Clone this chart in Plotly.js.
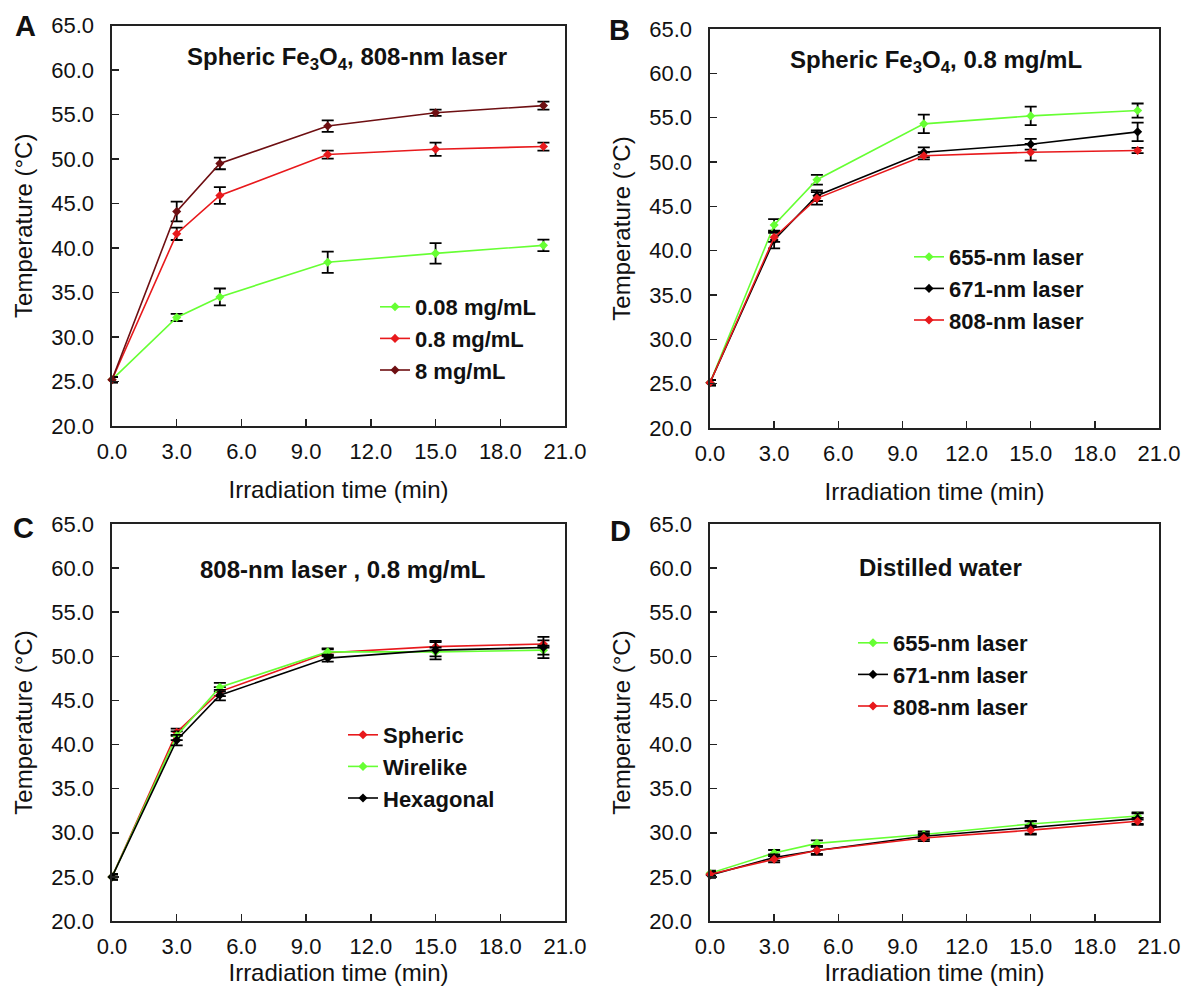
<!DOCTYPE html>
<html>
<head>
<meta charset="utf-8">
<script src="https://cdn.plot.ly/plotly-3.0.1.min.js"></script>
<style>html,body{margin:0;padding:0;background:#fff;}#chart{width:1181px;height:990px;}</style>
</head>
<body>
<div id="chart"></div>
<script>
// ---- data ----
const timeMin = [0, 3, 5, 10, 15, 20];
const xTicks = [0, 3, 6, 9, 12, 15, 18, 21];
const yTicks = [20, 25, 30, 35, 40, 45, 50, 55, 60, 65];

// Panel A: Spheric Fe3O4, 808-nm laser (concentration)
const a_008 = [25.2, 32.2, 34.5, 38.4, 39.4, 40.3];
const a_008_err = [0.3, 0.4, 0.95, 1.2, 1.15, 0.65];
const a_08 = [25.2, 41.6, 45.9, 50.5, 51.1, 51.4];
const a_08_err = [0.3, 0.7, 0.95, 0.45, 0.75, 0.45];
const a_8 = [25.2, 44.1, 49.5, 53.7, 55.2, 56.0];
const a_8_err = [0.3, 1.1, 0.65, 0.65, 0.35, 0.45];

// Panel B: Spheric Fe3O4, 0.8 mg/mL (wavelength)
const b_655 = [25.1, 42.9, 48.0, 54.3, 55.2, 55.8];
const b_655_err = [0.3, 0.65, 0.55, 1.05, 1.05, 0.8];
const b_671 = [25.1, 41.2, 46.2, 51.1, 52.0, 53.4];
const b_671_err = [0.3, 0.95, 0.6, 0.55, 0.6, 1.05];
const b_808 = [25.1, 41.5, 45.9, 50.7, 51.1, 51.3];
const b_808_err = [0.3, 0.5, 0.7, 0.4, 0.95, 0.3];

// Panel C: 808-nm laser, 0.8 mg/mL (shape)
const c_spheric = [25.0, 41.4, 46.0, 50.4, 51.1, 51.4];
const c_spheric_err = [0.3, 0.4, 0.5, 0.4, 0.5, 0.4];
const c_wirelike = [25.0, 41.0, 46.5, 50.5, 50.5, 50.7];
const c_wirelike_err = [0.3, 0.5, 0.5, 0.4, 0.5, 0.5];
const c_hexagonal = [25.0, 40.5, 45.6, 49.8, 50.7, 51.0];
const c_hexagonal_err = [0.3, 0.6, 0.6, 0.4, 1.05, 1.2];

// Panel D: Distilled water (wavelength)
const d_655 = [25.4, 27.7, 28.8, 29.8, 31.0, 31.9];
const d_655_err = [0.3, 0.35, 0.35, 0.35, 0.35, 0.4];
const d_671 = [25.2, 27.2, 28.0, 29.6, 30.6, 31.6];
const d_671_err = [0.3, 0.35, 0.5, 0.35, 0.7, 0.6];
const d_808 = [25.3, 27.0, 28.0, 29.4, 30.3, 31.3];
const d_808_err = [0.3, 0.35, 0.4, 0.35, 0.5, 0.4];

// ---- styling ----
const GREEN = '#66ff33';
const RED = '#e8191c';
const DARKRED = '#6e0f12';
const BLACK = '#000000';
const FONT = 'Liberation Sans, Arial, sans-serif';
const W = 1181, H = 990;
const PX = p => p / W;
const PY = p => 1 - p / H;

function trace(name, y, err, color, xa, ya, leg) {
  return {
    type: 'scatter', mode: 'lines+markers', name: name,
    x: timeMin, y: y,
    xaxis: xa, yaxis: ya, legend: leg,
    cliponaxis: false,
    line: {color: color, width: 1.6},
    marker: {color: color, size: 7, symbol: 'diamond'},
    error_y: {type: 'data', array: err, visible: true, color: BLACK, thickness: 1.8, width: 6}
  };
}

const data = [
  trace('0.08 mg/mL', a_008, a_008_err, GREEN, 'x', 'y', 'legend'),
  trace('0.8 mg/mL', a_08, a_08_err, RED, 'x', 'y', 'legend'),
  trace('8 mg/mL', a_8, a_8_err, DARKRED, 'x', 'y', 'legend'),
  trace('655-nm laser', b_655, b_655_err, GREEN, 'x2', 'y2', 'legend2'),
  trace('671-nm laser', b_671, b_671_err, BLACK, 'x2', 'y2', 'legend2'),
  trace('808-nm laser', b_808, b_808_err, RED, 'x2', 'y2', 'legend2'),
  trace('Spheric', c_spheric, c_spheric_err, RED, 'x3', 'y3', 'legend3'),
  trace('Wirelike', c_wirelike, c_wirelike_err, GREEN, 'x3', 'y3', 'legend3'),
  trace('Hexagonal', c_hexagonal, c_hexagonal_err, BLACK, 'x3', 'y3', 'legend3'),
  trace('655-nm laser', d_655, d_655_err, GREEN, 'x4', 'y4', 'legend4'),
  trace('671-nm laser', d_671, d_671_err, BLACK, 'x4', 'y4', 'legend4'),
  trace('808-nm laser', d_808, d_808_err, RED, 'x4', 'y4', 'legend4')
];

function xaxis(dom, anchor, standoff) {
  return {
    domain: dom, anchor: anchor, range: [0, 21], tickvals: xTicks, tickformat: '.1f',
    ticks: 'inside', ticklen: 7, tickwidth: 1.5, tickcolor: '#222',
    showline: true, mirror: true, linecolor: '#222', linewidth: 1.6,
    showgrid: false, zeroline: false, ticklabelstandoff: 5,
    ticklabeloverflow: 'allow',
    tickfont: {family: FONT, size: 22, color: '#111'},
    title: {text: 'Irradiation time (min)', font: {family: FONT, size: 24, color: '#111'}, standoff: standoff}
  };
}
function yaxis(dom, anchor) {
  return {
    domain: dom, anchor: anchor, range: [20, 65], tickvals: yTicks, tickformat: '.1f',
    ticks: 'inside', ticklen: 7, tickwidth: 1.5, tickcolor: '#222',
    showline: true, mirror: true, linecolor: '#222', linewidth: 1.6,
    showgrid: false, zeroline: false, ticklabelstandoff: 12,
    tickfont: {family: FONT, size: 22, color: '#111'},
    title: {text: 'Temperature (°C)', font: {family: FONT, size: 24, color: '#111'}, standoff: 12}
  };
}

function legendAt(xpx, ypx) {
  return {
    x: PX(xpx), y: PY(ypx), xanchor: 'left', yanchor: 'top',
    bgcolor: 'rgba(0,0,0,0)', borderwidth: 0, itemwidth: 30,
    font: {family: FONT, size: 22, color: '#111', weight: 'bold'},
    tracegroupgap: 0
  };
}

function ann(text, xpx, ypx, size) {
  return {
    text: text, xref: 'paper', yref: 'paper', x: PX(xpx), y: PY(ypx),
    xanchor: 'center', yanchor: 'middle', showarrow: false,
    font: {family: FONT, size: size, color: '#111', weight: 'bold'}
  };
}

const layout = {
  width: W, height: H,
  margin: {l: 0, r: 0, t: 0, b: 0},
  paper_bgcolor: '#fff', plot_bgcolor: '#fff',
  showlegend: true,
  xaxis: xaxis([PX(112), PX(565)], 'y', 18),
  yaxis: yaxis([PY(426), PY(25.5)], 'x'),
  xaxis2: xaxis([PX(710), PX(1159)], 'y2', 18),
  yaxis2: yaxis([PY(428), PY(29)], 'x2'),
  xaxis3: xaxis([PX(112), PX(565)], 'y3', 0),
  yaxis3: yaxis([PY(921), PY(524)], 'x3'),
  xaxis4: xaxis([PX(710), PX(1159)], 'y4', 0),
  yaxis4: yaxis([PY(921), PY(524)], 'x4'),
  legend: legendAt(375, 286),
  legend2: legendAt(909, 236),
  legend3: legendAt(343, 714),
  legend4: legendAt(853, 622),
  annotations: [
    ann('Spheric Fe<sub>3</sub>O<sub>4</sub>, 808-nm laser', 347, 58, 24),
    ann('Spheric Fe<sub>3</sub>O<sub>4</sub>, 0.8 mg/mL', 936, 62, 24),
    ann('808-nm laser , 0.8 mg/mL', 342, 569, 24),
    ann('Distilled water', 941, 567, 24),
    ann('A', 25, 26, 29),
    ann('B', 619, 30, 29),
    ann('C', 23, 528, 29),
    ann('D', 620, 531, 29)
  ]
};

Plotly.newPlot('chart', data, layout, {staticPlot: true, displayModeBar: false});
</script>
</body>
</html>
